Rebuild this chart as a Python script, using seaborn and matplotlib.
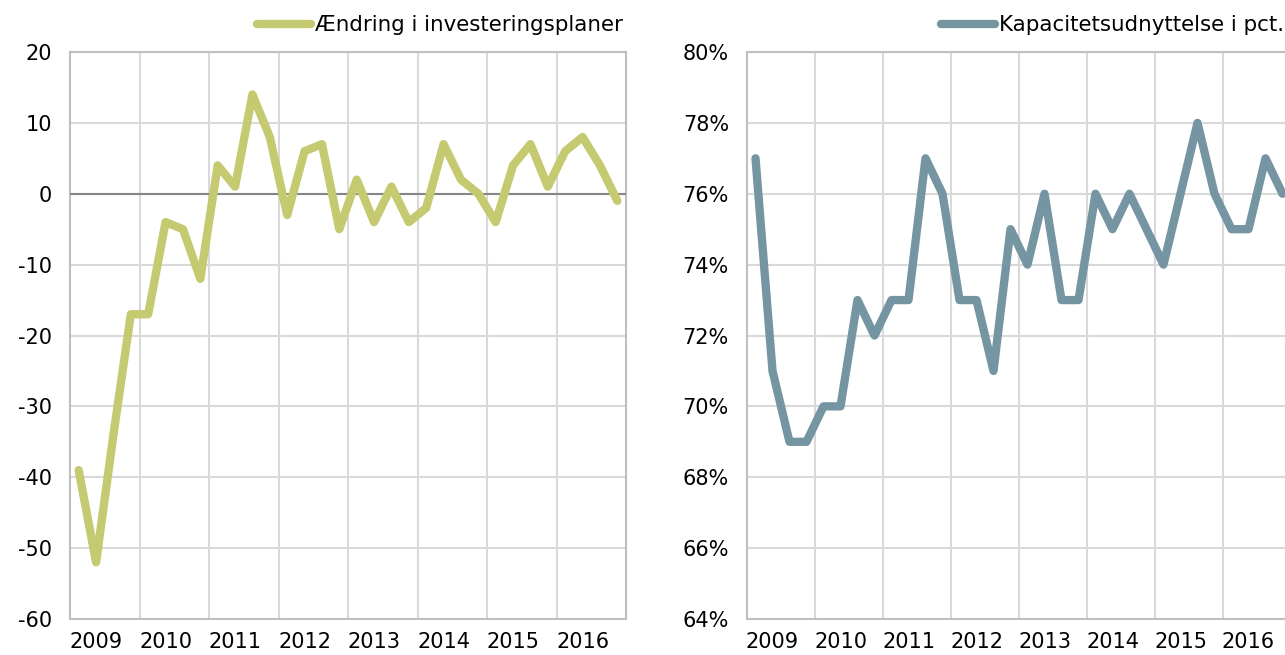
import pandas as pd
import matplotlib
matplotlib.use("Agg")
import matplotlib.pyplot as plt
import seaborn as sns
from matplotlib.ticker import FuncFormatter

# quarterly data 2009Q1 - 2016Q4
years = ["2009", "2010", "2011", "2012", "2013", "2014", "2015", "2016"]
invest = [-39, -52, -34, -17, -17, -4, -5, -12,
          4, 1, 14, 8, -3, 6, 7, -5,
          2, -4, 1, -4, -2, 7, 2, 0,
          -4, 4, 7, 1, 6, 8, 4, -1]
kapacitet = [77, 71, 69, 69, 70, 70, 73, 72,
             73, 73, 77, 76, 73, 73, 71, 75,
             74, 76, 73, 73, 76, 75, 76, 75,
             74, 76, 78, 76, 75, 75, 77, 76]

label_left = "Ændring i investeringsplaner"
label_right = "Kapacitetsudnyttelse i pct."
col_left = "#c5c96f"
col_right = "#7595a2"

df = pd.DataFrame({"q": range(len(invest)), "invest": invest, "kapacitet": kapacitet})

sns.set_style("white")
plt.rcParams["font.family"] = ["DejaVu Sans"]
plt.rcParams["font.size"] = 15
plt.rcParams["axes.unicode_minus"] = False
plt.rcParams["text.color"] = "black"
plt.rcParams["xtick.color"] = "black"
plt.rcParams["ytick.color"] = "black"

fig = plt.figure(figsize=(12.85, 6.55), dpi=100)
ax1 = fig.add_axes([70 / 1285, 36 / 655, 556 / 1285, 567 / 655])
ax2 = fig.add_axes([747 / 1285, 36 / 655, 544 / 1285, 567 / 655])

sns.lineplot(data=df, x="q", y="invest", ax=ax1, color=col_left, linewidth=6,
             label=label_left, legend=False)
sns.lineplot(data=df, x="q", y="kapacitet", ax=ax2, color=col_right, linewidth=6,
             label=label_right, legend=False)

for ax in (ax1, ax2):
    for ln in ax.get_lines():
        ln.set_solid_joinstyle("round")
        ln.set_solid_capstyle("round")
        ln.set_zorder(5)
    ax.set_xlim(-0.5, len(invest) - 0.5)
    ax.set_xticks([1 + 4 * i for i in range(len(years))])
    ax.set_xticklabels(years)
    ax.set_xticks([3.5 + 4 * i for i in range(len(years) - 1)], minor=True)
    ax.grid(False)
    ax.grid(True, which="minor", axis="x", color="#d9d9d9", linewidth=1.5)
    ax.grid(True, which="major", axis="y", color="#d9d9d9", linewidth=1.5)
    ax.tick_params(axis="both", which="both", length=0, labelsize=15, labelcolor="black")
    ax.tick_params(axis="y", pad=13)
    ax.tick_params(axis="x", pad=9)
    ax.set_xlabel("")
    ax.set_ylabel("")
    for s in ax.spines.values():
        s.set_color("#bfbfbf")
        s.set_linewidth(1.5)
        s.set_visible(True)

ax1.set_ylim(-60, 20)
ax1.set_yticks(range(-60, 21, 10))
ax1.axhline(0, color="#868686", linewidth=1.5, zorder=3)

ax2.set_ylim(64, 80)
ax2.set_yticks(range(64, 81, 2))
ax2.yaxis.set_major_formatter(FuncFormatter(lambda v, p: f"{v:.0f}%"))

h1, l1 = ax1.get_legend_handles_labels()
h2, l2 = ax2.get_legend_handles_labels()
fig.legend(h1, l1, loc="center right", bbox_to_anchor=(623 / 1285, 630 / 655),
           frameon=False, borderpad=0, borderaxespad=0, handlelength=2.5,
           handletextpad=0.2, fontsize=15.4)
fig.legend(h2, l2, loc="center right", bbox_to_anchor=(1284 / 1285, 630 / 655),
           frameon=False, borderpad=0, borderaxespad=0, handlelength=2.5,
           handletextpad=0.2, fontsize=15.4)

fig.savefig("out.png", dpi=100, facecolor="white")
